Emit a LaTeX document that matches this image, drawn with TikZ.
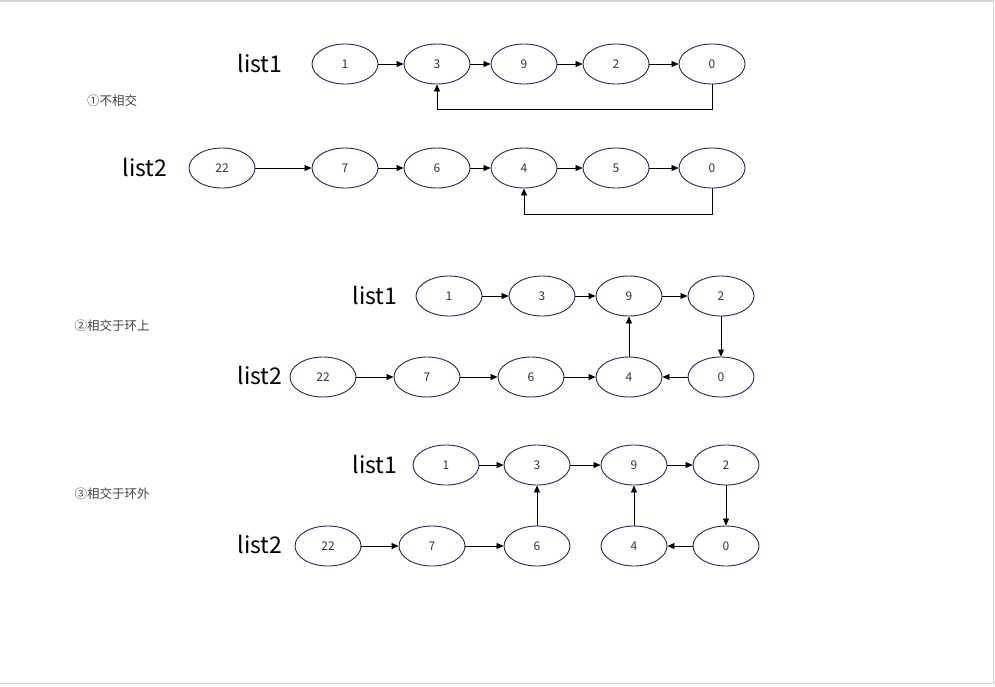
\documentclass[tikz,border=0pt]{standalone}
\usepackage{fontspec}
\setmainfont{Noto Sans CJK SC}
\usepackage{xcolor}
\usetikzlibrary{shapes.geometric,arrows.meta}

\definecolor{rim}{HTML}{1F2A5C}
\definecolor{frame}{HTML}{D4D4D4}

\begin{document}
\begin{tikzpicture}[x=1pt,y=-1pt]
        \tikzstyle{place}=[ellipse, draw=rim, line width=0.9pt, minimum width=66pt, minimum height=40pt, inner sep=0pt, text=black!80, font=\fontsize{12}{12}\selectfont]
        \tikzstyle{head}=[black, font=\fontsize{23}{23}\selectfont]
        \tikzstyle{case}=[black!75, font=\fontsize{12.5}{12.5}\selectfont]
        \tikzstyle{link}=[line width=0.8pt, -{Triangle[length=7pt,width=6pt]}]

        \useasboundingbox (0,0) rectangle (995,686);
        \draw[frame, line width=1.5pt] (0,1) -- (993.5,1) -- (993.5,683.5) -- (0,683.5);

        % Case 1
        \draw node at (112,101) [case] (case_1) {①不相交};

        \draw node at (260,63) [head] (head_11) {list1};
        \draw node at (345,64) [place] (a_0) {1};
        \draw node at (437,64) [place] (a_1) {3};
        \draw node at (524,64) [place] (a_2) {9};
        \draw node at (616,64) [place] (a_3) {2};
        \draw node at (712,64) [place] (a_4) {0};

        \draw node at (145,167) [head] (head_12) {list2};
        \draw node at (222,168) [place] (b_0) {22};
        \draw node at (345,168) [place] (b_1) {7};
        \draw node at (437,168) [place] (b_2) {6};
        \draw node at (524,168) [place] (b_3) {4};
        \draw node at (616,168) [place] (b_4) {5};
        \draw node at (712,168) [place] (b_5) {0};

        \foreach \i/\j in {0/1,1/2,2/3,3/4}
        \draw [link] (a_\i) -- (a_\j);
        \foreach \i/\j in {0/1,1/2,2/3,3/4,4/5}
        \draw [link] (b_\i) -- (b_\j);
        \draw [link] (a_4.south) -- ++(0,25) -| (a_1.south);
        \draw [link] (b_5.south) -- ++(0,26) -| (b_3.south);

        % Case 2
        \draw node at (112,326) [case] (case_2) {②相交于环上};

        \draw node at (375,295) [head] (head_21) {list1};
        \draw node at (449,296) [place] (c_0) {1};
        \draw node at (542,296) [place] (c_1) {3};
        \draw node at (629,296) [place] (c_2) {9};
        \draw node at (721,296) [place] (c_3) {2};

        \draw node at (260,375) [head] (head_22) {list2};
        \draw node at (323,377) [place] (d_0) {22};
        \draw node at (427,377) [place] (d_1) {7};
        \draw node at (531,377) [place] (d_2) {6};
        \draw node at (629,377) [place] (d_3) {4};
        \draw node at (721,377) [place] (d_4) {0};

        \foreach \i/\j in {0/1,1/2,2/3}
        \draw [link] (c_\i) -- (c_\j);
        \foreach \i/\j in {0/1,1/2,2/3}
        \draw [link] (d_\i) -- (d_\j);
        \draw [link] (c_3) -- (d_4);
        \draw [link] (d_4) -- (d_3);
        \draw [link] (d_3) -- (c_2);

        % Case 3
        \draw node at (112,494) [case] (case_3) {③相交于环外};

        \draw node at (375,464) [head] (head_31) {list1};
        \draw node at (446,465) [place] (e_0) {1};
        \draw node at (537,465) [place] (e_1) {3};
        \draw node at (634,465) [place] (e_2) {9};
        \draw node at (726,465) [place] (e_3) {2};

        \draw node at (260,544) [head] (head_32) {list2};
        \draw node at (328,546) [place] (f_0) {22};
        \draw node at (432,546) [place] (f_1) {7};
        \draw node at (537,546) [place] (f_2) {6};
        \draw node at (634,546) [place] (f_3) {4};
        \draw node at (726,546) [place] (f_4) {0};

        \foreach \i/\j in {0/1,1/2,2/3}
        \draw [link] (e_\i) -- (e_\j);
        \foreach \i/\j in {0/1,1/2}
        \draw [link] (f_\i) -- (f_\j);
        \draw [link] (f_2) -- (e_1);
        \draw [link] (e_3) -- (f_4);
        \draw [link] (f_4) -- (f_3);
        \draw [link] (f_3) -- (e_2);

    \end{tikzpicture}
\end{document}
